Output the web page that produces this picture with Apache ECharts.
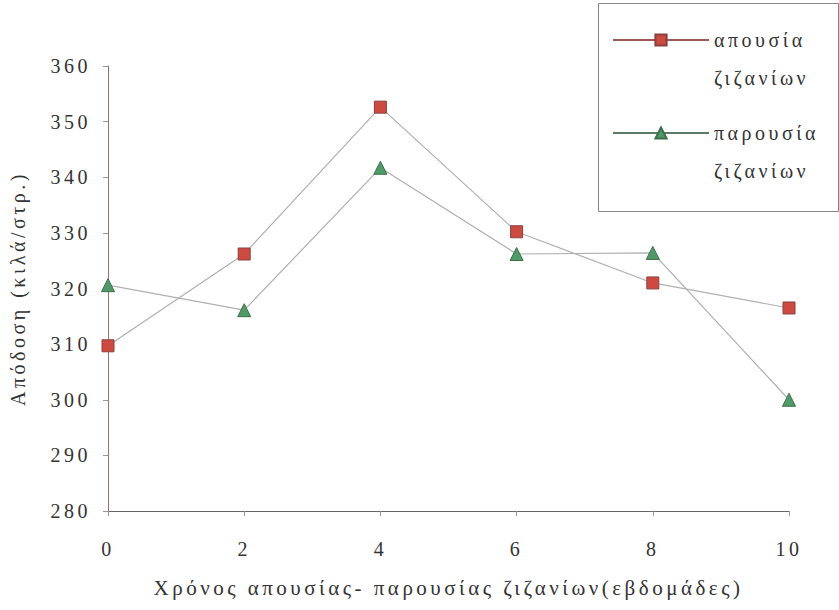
<!DOCTYPE html>
<html><head><meta charset="utf-8">
<script src="https://cdn.jsdelivr.net/npm/echarts@6/dist/echarts.min.js"></script>
<style>html,body{margin:0;padding:0;background:#fff}#c{width:839px;height:610px}
#c text{letter-spacing:3.5px}</style>
</head><body><div id="c"></div>
<script>
const weeks = [0, 2, 4, 6, 8, 10];
const absenceWeeds = [309.7, 326.2, 352.6, 330.2, 321.0, 316.5];
const presenceWeeds = [320.6, 316.1, 341.7, 326.2, 326.4, 300.0];
const seriesNames = ['απουσία ζιζανίων', 'παρουσία ζιζανίων'];
const yTitle = 'Απόδοση (κιλά/στρ.)';
const xTitle = 'Χρόνος απουσίας- παρουσίας ζιζανίων(εβδομάδες)';

const font = "'Liberation Serif', 'Times New Roman', Times, serif";
const chart = echarts.init(document.getElementById('c'), null, {renderer: 'svg'});
chart.setOption({
  animation: false,
  backgroundColor: '#fff',
  grid: {left: 108, right: 50, top: 66, bottom: 99, outerBoundsMode: 'none', containLabel: false},
  graphic: [{
    type: 'rect', left: 596, top: 1,
    shape: {width: 240, height: 208},
    style: {fill: 'none', stroke: '#888', lineWidth: 1}
  }],
  legend: {
    orient: 'vertical', left: 612, top: -17,
    padding: 0,
    itemWidth: 96, itemHeight: 14, itemGap: -21,
    data: [
      {name: seriesNames[0], lineStyle: {color: '#9a5a55'}},
      {name: seriesNames[1], lineStyle: {color: '#5e7a66'}}
    ],
    formatter: n => '\n' + n.replace(' ', '\n'),
    textStyle: {fontFamily: font, fontSize: 20, color: '#333', lineHeight: 38}
  },
  xAxis: {
    type: 'value', min: 0, max: 10, interval: 2,
    name: xTitle, nameLocation: 'middle', nameGap: 66,
    nameTextStyle: {fontFamily: 'serif', fontSize: 21, color: '#333'},
    axisLine: {lineStyle: {color: '#666', width: 1}},
    axisTick: {show: true, length: 5, lineStyle: {color: '#999'}},
    axisLabel: {fontFamily: font, fontSize: 20, color: '#333', margin: 28},
    splitLine: {show: false}
  },
  yAxis: {
    type: 'value', min: 280, max: 360, interval: 10,
    name: yTitle, nameLocation: 'middle', nameGap: 80, nameRotate: 90,
    nameTextStyle: {fontFamily: 'Times New Roman', fontSize: 20, color: '#333'},
    axisLine: {show: true, lineStyle: {color: '#a07070', width: 1}},
    axisTick: {show: true, length: 5, lineStyle: {color: '#999'}},
    axisLabel: {fontFamily: font, fontSize: 20, color: '#333', margin: 17},
    splitLine: {show: false}
  },
  series: [
    {
      name: seriesNames[0], type: 'line',
      data: weeks.map((w, i) => [w, absenceWeeds[i]]),
      symbol: 'rect', symbolSize: 12,
      itemStyle: {color: '#cc4a40', borderColor: '#8a4040', borderWidth: 1},
      lineStyle: {color: '#b0b0b0', width: 1.2}
    },
    {
      name: seriesNames[1], type: 'line',
      data: weeks.map((w, i) => [w, presenceWeeds[i]]),
      symbol: 'triangle', symbolSize: 13,
      itemStyle: {color: '#4f9a66', borderColor: '#3c6e4c', borderWidth: 1},
      lineStyle: {color: '#b0b0b0', width: 1.2}
    }
  ]
});
</script></body></html>
